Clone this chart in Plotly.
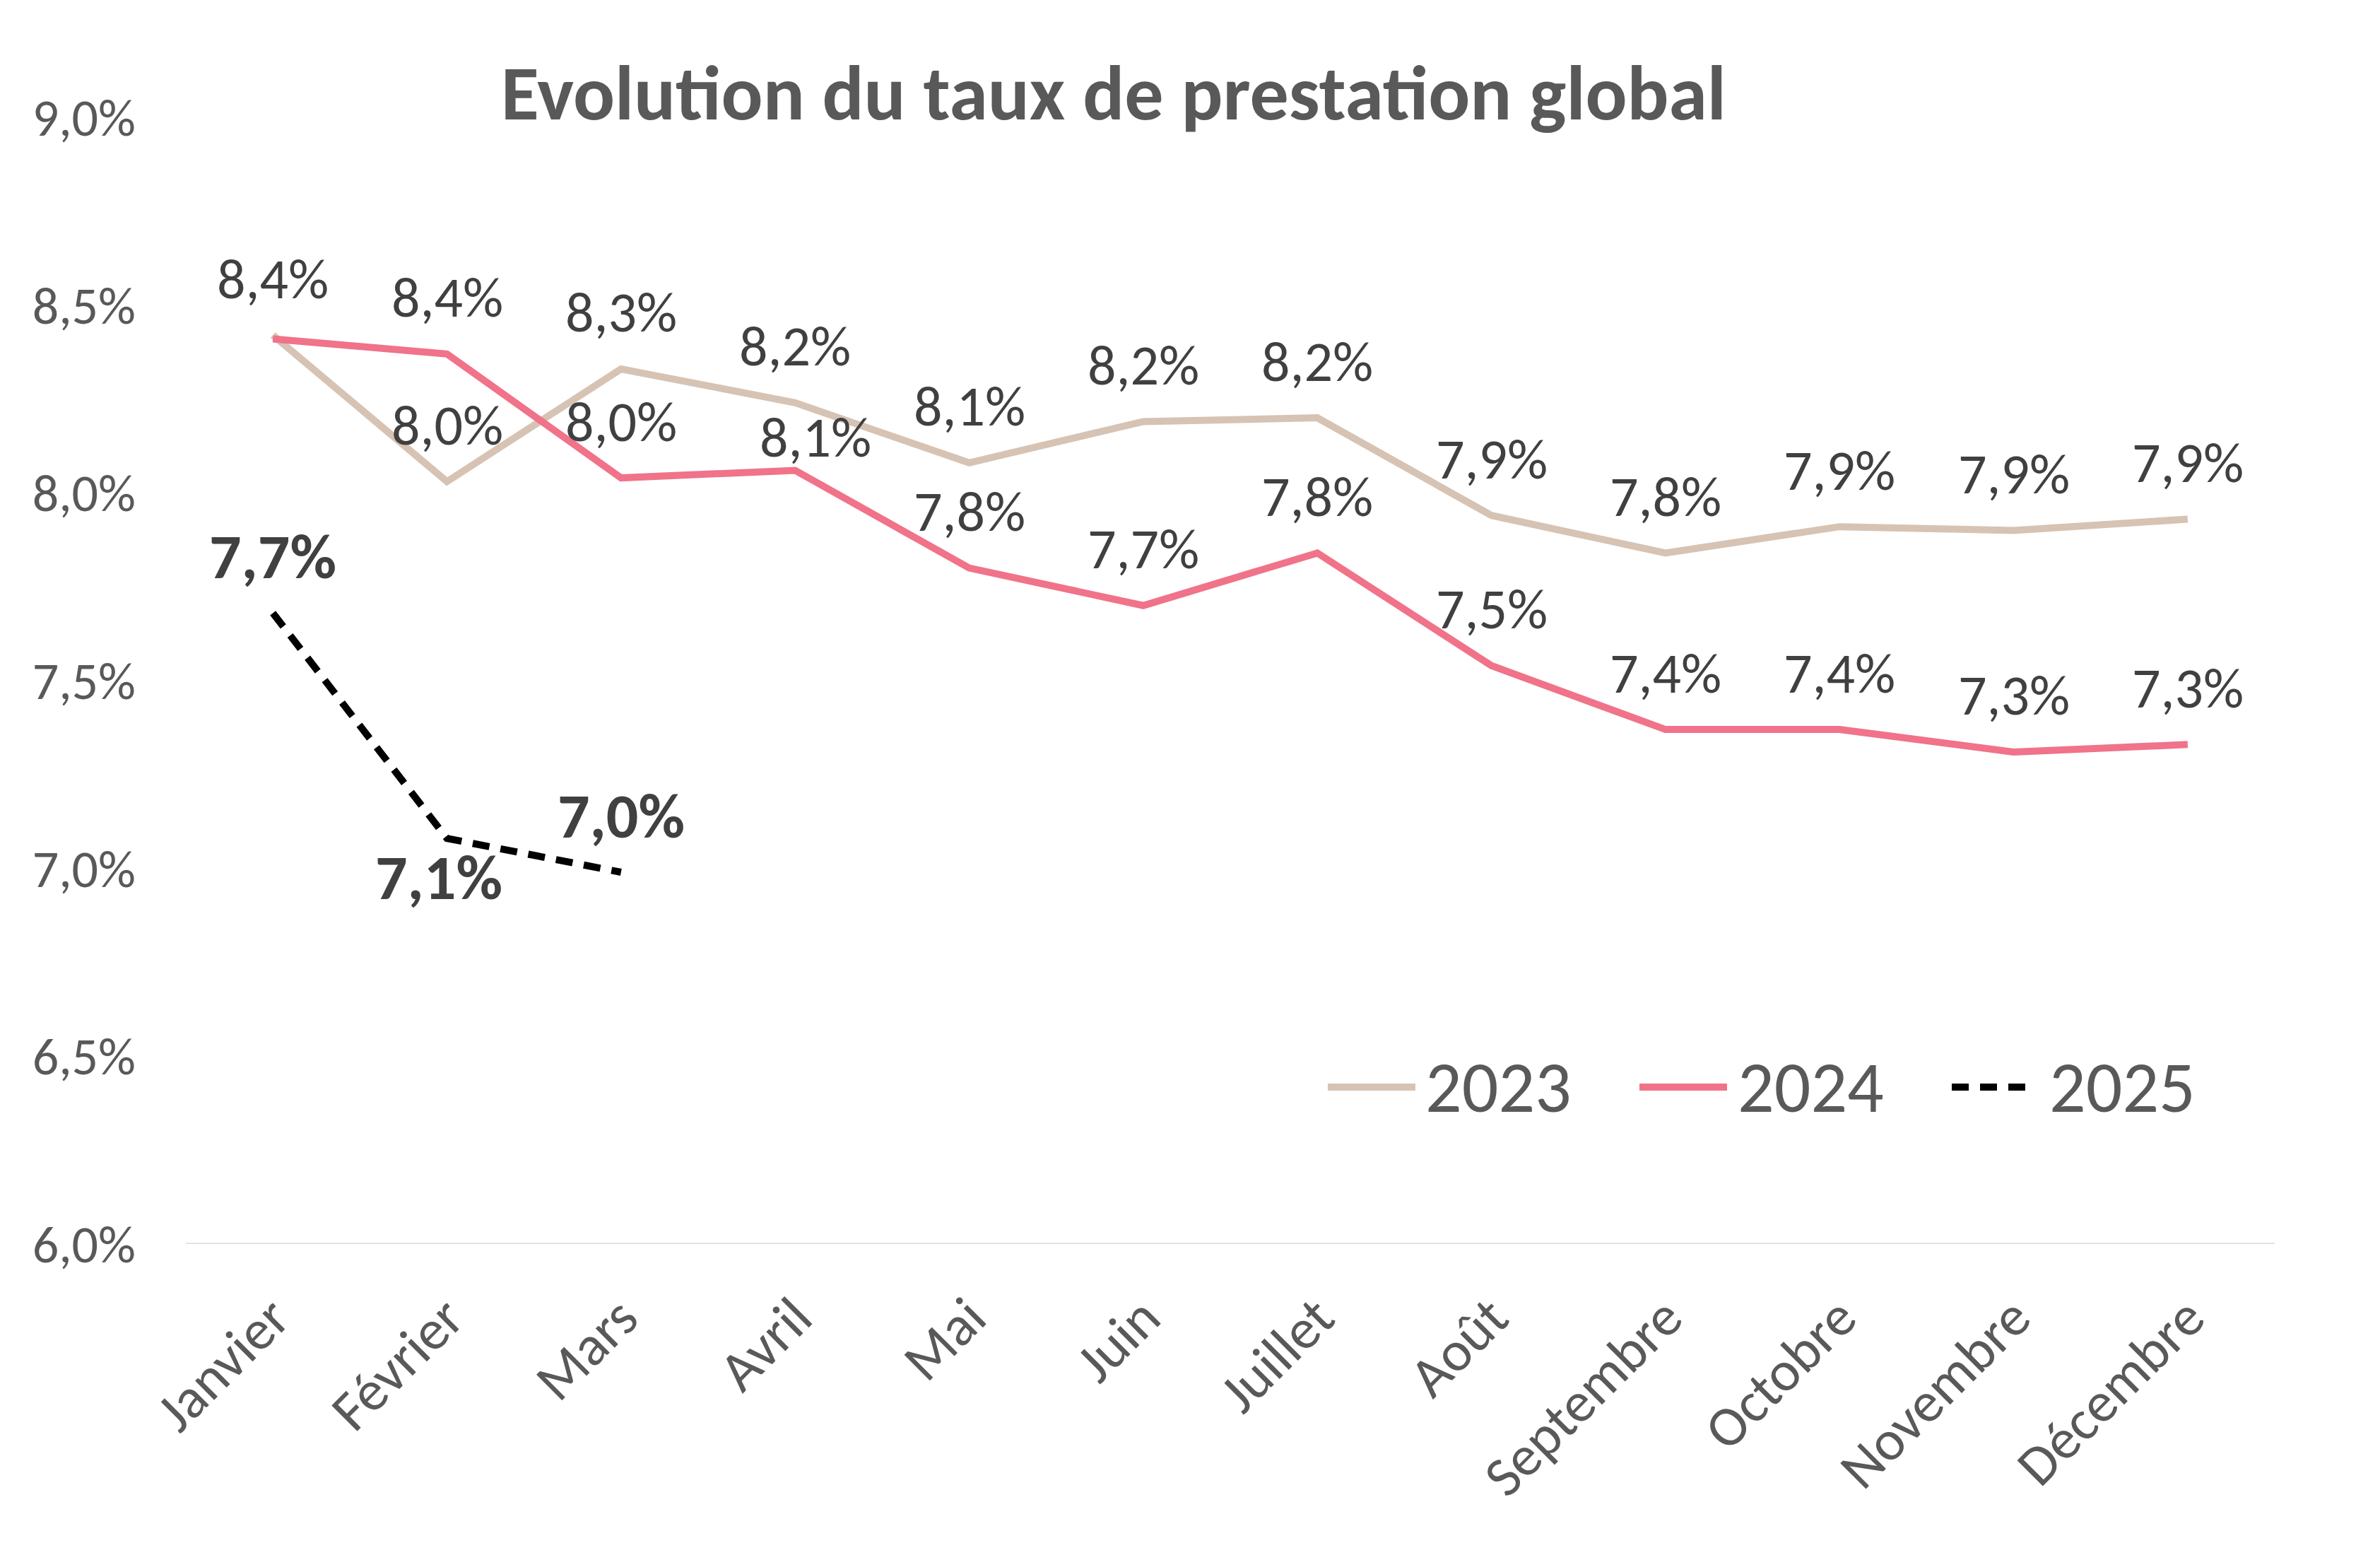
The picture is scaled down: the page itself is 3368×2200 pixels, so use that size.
import plotly.graph_objects as go

mois = ["Janvier", "Février", "Mars", "Avril", "Mai", "Juin", "Juillet",
        "Août", "Septembre", "Octobre", "Novembre", "Décembre"]

annees = ["2023", "2024", "2025"]
taux_2023 = [8.42, 8.03, 8.33, 8.24, 8.08, 8.19, 8.20, 7.94, 7.84, 7.91, 7.90, 7.93]
taux_2024 = [8.41, 8.37, 8.04, 8.06, 7.80, 7.70, 7.84, 7.54, 7.37, 7.37, 7.31, 7.33]
taux_2025 = [7.68, 7.08, 6.99]

couleurs = ["#D6C3B4", "#F07389", "#000000"]
FONT = "Carlito, 'Liberation Sans Narrow', 'Liberation Sans', Arial, sans-serif"

W, H = 3368, 2200
L, R, T, B = 255, 157, 158, 448

fig = go.Figure()

series = [taux_2023, taux_2024, taux_2025]
for nom, vals, coul in zip(annees, series, couleurs):
    fig.add_trace(go.Scatter(
        x=mois[:len(vals)], y=vals, name=nom, mode="lines",
        line=dict(color=coul, width=10,
                  dash="24px,16px" if nom == "2025" else "solid"),
        showlegend=False,
    ))

def fmt(v):
    return f"{v:.1f}".replace(".", ",") + "%"

# étiquettes de données
for k, (nom, vals) in enumerate(zip(annees, series)):
    for i, v in enumerate(vals):
        # même étiquette déjà posée au même endroit (janvier)
        if k == 1 and fmt(v) == fmt(taux_2023[i]) and abs(v - taux_2023[i]) < 0.02:
            continue
        dy, dx = 80, 0
        bold = nom == "2025"
        if nom == "2025" and i == 1:
            dy, dx = -55, -12
        if nom == "2024" and i == 3:
            dy, dx = 47, 29
        txt = fmt(v)
        fig.add_annotation(
            x=mois[i], y=v, text=f"<b>{txt}</b>" if bold else txt,
            showarrow=False, yshift=dy, xshift=dx,
            font=dict(family=FONT, size=90 if bold else 80, color="#404040"),
        )

# légende dessinée à la main
leg_y = (H - B - 1530) / (H - T - B)
leg_pos = [(1871, 1995, 2007), (2312, 2436, 2449), (2754, 2866, 2890)]
for nom, coul, (a, b, t) in zip(annees, couleurs, leg_pos):
    pw = W - L - R
    fig.add_shape(type="line", xref="paper", yref="paper",
                  x0=(a - L) / pw, x1=(b - L) / pw, y0=leg_y, y1=leg_y,
                  line=dict(color=coul, width=10,
                            dash="24px,16px" if nom == "2025" else "solid"))
    fig.add_annotation(xref="paper", yref="paper", x=(t - L) / pw, y=leg_y,
                       text=nom, showarrow=False, xanchor="left", yanchor="middle",
                       font=dict(family=FONT, size=102, color="#595959"))

fig.update_layout(
    width=W, height=H,
    margin=dict(l=L, r=R, t=T, b=B),
    plot_bgcolor="white", paper_bgcolor="white",
    separators=", ",
    title=dict(text="Evolution du taux de prestation global",
               x=1568 / W, xanchor="center", y=1 - 122 / H, yanchor="middle",
               font=dict(family=FONT, size=110, color="#595959", weight="bold")),
)

fig.update_xaxes(
    type="category", range=[-0.5, 11.5],
    tickangle=-45, ticklabelstandoff=40,
    tickfont=dict(family=FONT, size=80, color="#595959"),
    showgrid=False, showline=False, zeroline=False, ticks="",
)
fig.update_yaxes(
    range=[6, 9], dtick=0.5, tickformat=".1f", ticksuffix="%",
    tickfont=dict(family=FONT, size=74, color="#595959"),
    showgrid=False, zeroline=False, showline=False, ticks="",
    ticklabelstandoff=70,
)
# ligne de base à 6,0 %
fig.add_hline(y=6, line=dict(color="#D9D9D9", width=3), layer="below")

fig.write_html("out.html")
